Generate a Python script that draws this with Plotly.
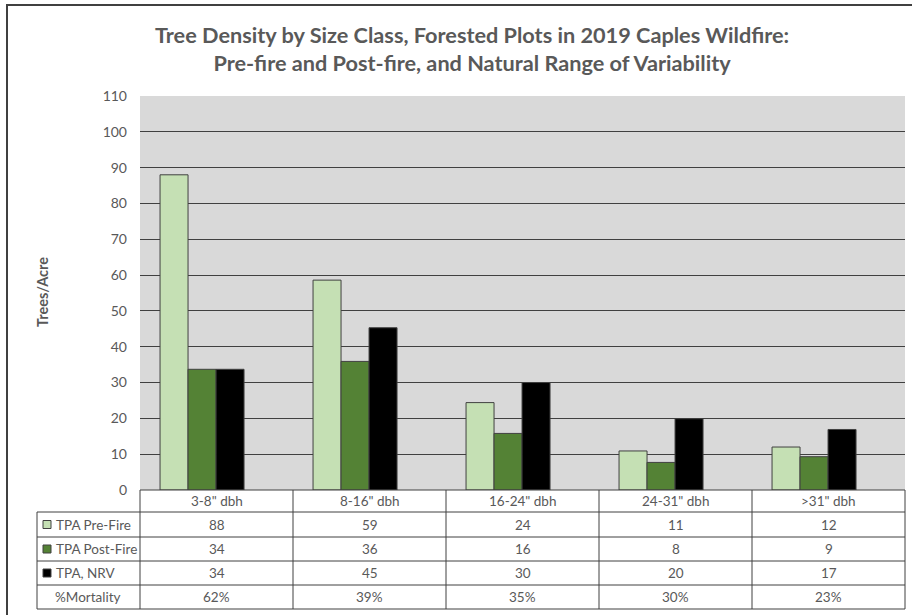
import plotly.graph_objects as go

# data
categories = ['3-8" dbh', '8-16" dbh', '16-24" dbh', '24-31" dbh', '>31" dbh']
pre_fire = [88.0, 58.6, 24.4, 10.9, 12.0]
post_fire = [33.7, 35.9, 15.8, 7.7, 9.3]
nrv = [33.7, 45.3, 30.0, 19.9, 16.9]
mortality = [62, 39, 35, 30, 23]

series_names = ['TPA Pre-Fire', 'TPA Post-Fire', 'TPA, NRV']
series_colors = ['#C5E0B4', '#548235', '#000000']

W, H = 912, 615
L, R, T, B = 140, 7, 96, 125
PW, PH = W - L - R, H - T - B
FONT = 'Lato'
GREY = '#595959'
LINE = '#404040'


def px(x):
    return (x - L) / PW


def py(y):
    return (H - B - y) / PH


# excel leaves room for a 4th (hidden) series, so bars sit left of centre
bar_w = 0.183
offsets = [-0.369, -0.186, -0.003]

fig = go.Figure()
for name, vals, col, off in zip(series_names, [pre_fire, post_fire, nrv], series_colors, offsets):
    fig.add_trace(go.Bar(x=categories, y=vals, name=name, marker_color=col,
                         width=bar_w, offset=off,
                         marker_line=dict(color=LINE, width=1)))

shapes = []
# outer chart border
shapes.append(dict(type='rect', xref='paper', yref='paper', x0=px(7), x1=px(940),
                   y0=py(640), y1=py(5), line=dict(color=LINE, width=2)))

# data table grid
row_edges = [490, 512, 537, 561, 585, 609]
leg_left = px(37)
shapes.append(dict(type='line', xref='paper', yref='paper', x0=0, x1=1,
                   y0=py(row_edges[0]), y1=py(row_edges[0]), line=dict(color=LINE, width=1)))
for ye in row_edges[1:]:
    shapes.append(dict(type='line', xref='paper', yref='paper', x0=leg_left, x1=1,
                       y0=py(ye), y1=py(ye), line=dict(color=LINE, width=1)))
for i in range(len(categories) + 1):
    xv = i / len(categories)
    shapes.append(dict(type='line', xref='paper', yref='paper', x0=xv, x1=xv,
                       y0=py(row_edges[0]), y1=py(row_edges[-1]), line=dict(color=LINE, width=1)))
shapes.append(dict(type='line', xref='paper', yref='paper', x0=leg_left, x1=leg_left,
                   y0=py(row_edges[1]), y1=py(row_edges[-1]), line=dict(color=LINE, width=1)))

annotations = []
tfont = dict(family=FONT, size=13.5, color=GREY)


def row_mid(k):
    return py((row_edges[k] + row_edges[k + 1]) / 2)


def note(**kw):
    kw.setdefault('xanchor', 'center')
    kw.setdefault('yanchor', 'middle')
    kw.setdefault('showarrow', False)
    kw.setdefault('font', tfont)
    annotations.append(kw)


for c in categories:
    note(x=c, y=row_mid(0), xref='x', yref='paper', text=c)

for k, (name, vals, col) in enumerate(zip(series_names, [pre_fire, post_fire, nrv], series_colors)):
    ym = (row_edges[k + 1] + row_edges[k + 2]) / 2
    shapes.append(dict(type='rect', xref='paper', yref='paper', x0=px(43), x1=px(51),
                       y0=py(ym + 4), y1=py(ym - 4), fillcolor=col, line=dict(color=LINE, width=1)))
    note(x=px(54), y=row_mid(k + 1), xref='paper', yref='paper', text=name, xanchor='left')
    for c, v in zip(categories, vals):
        note(x=c, y=row_mid(k + 1), xref='x', yref='paper', text=str(int(v + 0.5)))

note(x=px(88), y=row_mid(4), xref='paper', yref='paper', text='%Mortality')
for c, m in zip(categories, mortality):
    note(x=c, y=row_mid(4), xref='x', yref='paper', text=f'{m}%')

# title and axis title
note(x=px(472), y=py(49), xref='paper', yref='paper',
     text='<b>Tree Density by Size Class, Forested Plots in 2019 Caples Wildfire:<br>'
          'Pre-fire and Post-fire, and Natural Range of Variability</b>',
     font=dict(family=FONT, size=21.7, color=GREY))
note(x=px(42), y=py(292), xref='paper', yref='paper', text='<b>Trees/Acre</b>',
     textangle=-90, font=dict(family=FONT, size=14.5, color=GREY))

fig.update_layout(
    width=W, height=H, autosize=False,
    margin=dict(l=L, r=R, t=T, b=B),
    barmode='overlay',
    plot_bgcolor='#D9D9D9', paper_bgcolor='white',
    showlegend=False,
    shapes=shapes, annotations=annotations,
    xaxis=dict(range=[-0.5, 4.5], showticklabels=False, showgrid=False, zeroline=False, fixedrange=True),
    yaxis=dict(range=[0, 110], dtick=10, showgrid=True, gridcolor=LINE, gridwidth=1, zeroline=False,
               tickfont=dict(family=FONT, size=14, color=GREY), ticks='', ticklabelstandoff=12,
               fixedrange=True),
)

fig.write_html("out.html", config={'displayModeBar': False},
               post_script="document.body.style.margin='0';")
